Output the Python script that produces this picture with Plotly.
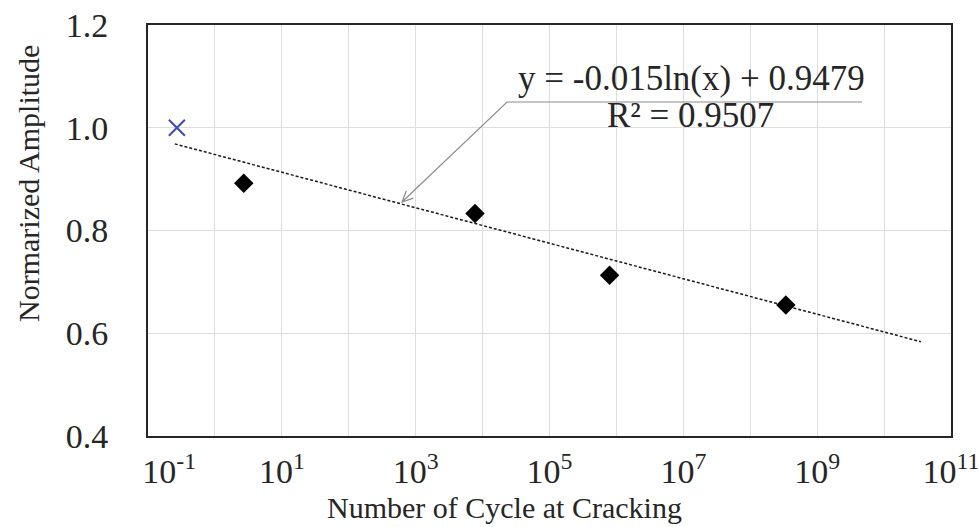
import numpy as np
import plotly.graph_objects as go

FONT = "Liberation Serif"
INK = "#262626"

# Reference specimen (cross) and cracked specimens (diamonds)
ref_cycles = [0.27]
ref_amplitude = [1.0]
cycles = [2.7, 7.7e3, 7.9e5, 3.4e8]
amplitude = [0.892, 0.833, 0.713, 0.655]

# Logarithmic trend line
fit_slope = -0.015
fit_intercept = 0.9479
fit_r2 = 0.9507
fit_log_span = [-0.6, 10.55]

x_exponents = list(range(-1, 12))
x_tick_text = [f"10<sup>{e}</sup>" if e % 2 else "" for e in x_exponents]
y_ticks = [0.4, 0.6, 0.8, 1.0, 1.2]
y_tick_text = ["0.4", "0.6", "0.8", "1.0", "1.2"]

W, H = 979, 527
ML, MR, MT, MB = 148, 28, 25, 91
PW, PH = W - ML - MR, H - MT - MB


def px(x, y):
    """Pixel position in the page -> paper coordinates."""
    return (x - ML) / PW, (H - MB - y) / PH


fig = go.Figure()

x_fit = np.logspace(fit_log_span[0], fit_log_span[1], 100)
y_fit = fit_slope * np.log(x_fit) + fit_intercept
fig.add_trace(go.Scatter(
    x=x_fit, y=y_fit, mode="lines",
    line=dict(color="#1a1a1a", width=1.5, dash="3px,2px"),
    hoverinfo="skip", showlegend=False,
))
fig.add_trace(go.Scatter(
    x=ref_cycles, y=ref_amplitude, mode="markers",
    marker=dict(symbol="x-thin-open", size=16, color="#3a4bb5",
                line=dict(color="#3a4bb5", width=2)),
    showlegend=False,
))
fig.add_trace(go.Scatter(
    x=cycles, y=amplitude, mode="markers",
    marker=dict(symbol="diamond", size=15, color="#000000"),
    showlegend=False,
))

# Leader from the equation label to the trend line (open arrowhead)
tail = np.array([507.0, 102.0])
tip = np.array([402.0, 202.0])
d = (tail - tip) / np.linalg.norm(tail - tip)
barbs = []
for ang in (np.radians(25), -np.radians(25)):
    rot = np.array([[np.cos(ang), -np.sin(ang)], [np.sin(ang), np.cos(ang)]])
    barbs.append(tip + 12 * rot @ d)
pts = [(862, 102), tuple(tail), tuple(tip)]
path = "M " + " L ".join("%.5f,%.5f" % px(*p) for p in pts)
path += " M %.5f,%.5f L %.5f,%.5f L %.5f,%.5f" % (*px(*barbs[0]), *px(*tip), *px(*barbs[1]))
fig.add_shape(type="path", path=path, xref="paper", yref="paper",
              line=dict(color="#8c8c8c", width=1.2))

ann = dict(xref="paper", yref="paper", showarrow=False,
           xanchor="center", yanchor="middle")
ex, ey = px(691, 79)
fig.add_annotation(x=ex, y=ey, text=f"y = {fit_slope}ln(x) + {fit_intercept}",
                   font=dict(family=FONT, size=35, color=INK), **ann)
rx, ry = px(690, 116)
fig.add_annotation(x=rx, y=ry, text=f"R² = {fit_r2}",
                   font=dict(family=FONT, size=35, color=INK), **ann)

tx, ty = px(504, 507)
fig.add_annotation(x=tx, y=ty, text="Number of Cycle at Cracking",
                   font=dict(family=FONT, size=30, color=INK), **ann)
yx, yy = px(28, 184)
fig.add_annotation(x=yx, y=yy, text="Normarized Amplitude", textangle=-90,
                   font=dict(family=FONT, size=30, color=INK), **ann)

# the leftmost decade label sits slightly right of its gridline
x_tick_display = list(x_tick_text)
x_tick_display[0] = "&nbsp;" * 5 + x_tick_display[0]

axis_common = dict(
    showgrid=True, gridcolor="#dedede", gridwidth=1,
    showline=True, linecolor=INK, linewidth=2, mirror=True,
    ticks="", zeroline=False, automargin=False,
    ticklabeloverflow="allow",
    tickfont=dict(family=FONT, size=34, color=INK),
)
fig.update_xaxes(type="log", range=[-1, 11],
                 tickvals=[10.0 ** e for e in x_exponents], ticktext=x_tick_display,
                 ticklabelstandoff=4, **axis_common)
fig.update_yaxes(range=[0.4, 1.2], tickvals=y_ticks, ticktext=y_tick_text,
                 ticklabelstandoff=31, **axis_common)

fig.update_layout(
    width=W, height=H,
    margin=dict(l=ML, r=MR, t=MT, b=MB, autoexpand=False),
    paper_bgcolor="white", plot_bgcolor="white",
    font=dict(family=FONT, color=INK),
    hovermode=False,
)

fig.write_html("out.html", config={"displayModeBar": False})
